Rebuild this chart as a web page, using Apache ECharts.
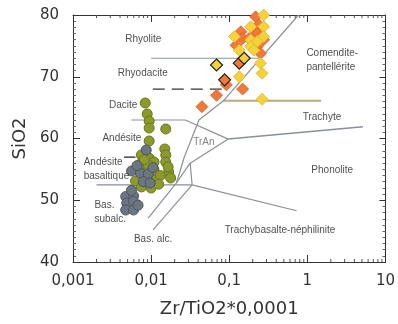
<!DOCTYPE html>
<html><head><meta charset="utf-8">
<script src="https://cdn.jsdelivr.net/npm/echarts@6/dist/echarts.min.js"></script>
<style>html,body{margin:0;padding:0;background:#fff}#c{width:398px;height:324px}</style>
</head><body><div id="c"></div>
<script>
// ---- axis ticks ----
const xTickValues = [0.001, 0.01, 0.1, 1, 10];
const xTickLabels = ['0,001', '0,01', '0,1', '1', '10'];
const yTickValues = [40, 50, 60, 70, 80];
const minorLogTicks = [0.002,0.003,0.004,0.005,0.006,0.007,0.008,0.009,
  0.02,0.03,0.04,0.05,0.06,0.07,0.08,0.09,
  0.2,0.3,0.4,0.5,0.6,0.7,0.8,0.9,
  2,3,4,5,6,7,8,9];

// ---- samples: [Zr/TiO2*0.0001, SiO2] ----
const greenCircles = [
  [0.00841,65.75],[0.00891,63.97],[0.00944,62.83],[0.00944,61.70],[0.0154,61.54],
  [0.00944,59.60],[0.01496,58.30],[0.0154,57.33],[0.0075,57.33],[0.00944,56.84],
  [0.0075,56.03],[0.0109,56.19],[0.0154,56.19],[0.00917,54.90],[0.0109,54.90],
  [0.0168,54.57],[0.0178,53.60],[0.00631,53.12],[0.0112,53.28],[0.0075,52.15],
  [0.0100,51.98],[0.00917,55.71],[0.0082,56.6],[0.0131,54.0],[0.0165,55.4],
  [0.0085,53.6],[0.0125,52.6]
];
const grayCircles = [
  [0.00866,58.14],[0.00562,54.74],[0.00729,54.41],[0.00917,54.25],[0.00794,53.0],
  [0.00972,52.79],[0.00473,50.6],[0.00596,50.7],[0.00487,49.55],[0.00596,49.8],
  [0.00473,48.42],[0.00596,48.42],[0.0106,55.3],[0.0066,55.6],[0.0056,51.6],
  [0.0068,49.2]
];
const orangeDiamonds = [
  [0.2175,79.7],[0.2393,78.4],[0.1413,77.3],[0.2175,77.3],[0.2284,77.0],[0.1484,76.2],
  [0.1794,76.2],[0.2761,76.0],[0.1224,75.1],[0.2284,74.9],[0.2512,73.8],
  [0.0917,68.7],[0.1484,68.0],[0.0688,67.0],[0.0447,65.15]
];
const orangeOutlined = [[0.1346,72.2],[0.0873,69.5]];
const yellowDiamonds = [
  [0.2761,80.0],[0.1884,78.1],[0.2761,78.1],[0.2761,76.5],[0.1165,76.5],[0.1884,75.95],
  [0.2284,75.7],[0.1884,74.9],[0.1346,74.3],[0.2072,74.3],[0.2512,72.2],[0.1346,70.0],
  [0.2637,70.55],[0.2637,66.35]
];
const yellowOutlined = [[0.1553,73.0],[0.0688,71.9]];

// ---- field boundaries ----
const bRhyolite = [[0.01,73.0],[0.235,73.0]];
const bRhyodacite = [[0.0105,68.0],[0.085,68.0]];
const bComendite = [[0.084,66.1],[1.5,66.1]];
const bDaciteAndesite = [[0.0056,63.0],[0.0274,63.0],[0.0972,59.9]];
const bTrachPhon = [[0.0972,59.9],[5.16,61.9]];
const bMain = [[0.772,80],[0.0841,66.1],[0.041,63.0],[0.0266,57.0],[0.0211,52.8],[0.00917,47.1]];
const bTrAnLow = [[0.0972,59.9],[0.0316,56.0],[0.0211,52.8]];
const bTrAnLink = [[0.0316,56.0],[0.0335,52.5]];
const bBasalt = [[0.002,52.5],[0.0335,52.5],[0.729,48.3]];
const bAlkBas = [[0.0335,52.5],[0.0106,45.2]];
const bLeader = [[0.0045,57.0],[0.0063,57.0]];

// ---- field names ----
const fieldNames = ['Rhyolite','Rhyodacite','Dacite','Andésite','Andésite\nbasaltique','Bas.\nsubalc.',
  'Bas. alc.','Trachybasalte-néphilinite','Phonolite','Trachyte','Comendite-\npantellérite','TrAn'];
const fieldAnchors = [[0.00794,76.1],[0.00783,70.6],[0.00668,65.4],[0.0075,60.1],[0.00137,55.0],[0.00188,48.1],
  [0.0106,43.7],[0.447,45.2],[2.08,54.9],[1.54,63.5],[0.972,72.6],[0.0473,59.4]];
const fieldAlign = ['center','center','right','right','left','left','center','center','center','center','left','center'];

const AXFONT = "'DejaVu Sans',sans-serif";
const chart = echarts.init(document.getElementById('c'), null, {renderer:'canvas'});

function lineSeries(data, color, width, type) {
  return {type:'line', data, xAxisIndex:0, yAxisIndex:0, symbol:'none', silent:true, z:2,
    lineStyle:{color, width, type: type || 'solid'}, animation:false};
}
function scat(data, symbol, size, fill, border, bw) {
  return {type:'scatter', data, symbol, symbolSize:size, z:5, animation:false,
    itemStyle:{color:fill, borderColor:border, borderWidth:bw, opacity:1}};
}
const axisCommon = {lineStyle:{color:'#333', width:1}};
const axText = {fontFamily:AXFONT, color:'#333'};

const option = {
  animation:false,
  grid:{left:73, right:6, top:15, bottom:62, containLabel:false},
  xAxis:[{
    type:'log', logBase:10, min:0.001, max:10, position:'bottom',
    axisLine:{show:true, ...axisCommon},
    axisTick:{show:true, inside:true, length:7, lineStyle:{color:'#333'}},
    splitLine:{show:false},
    axisLabel:{...axText, fontSize:15, margin:12,
      formatter:v => xTickLabels[Math.round(Math.log10(v)) + 3]},
    name:'Zr/TiO2*0,0001', nameLocation:'middle', nameGap:38,
    nameTextStyle:{...axText, fontSize:18}
  },{
    type:'log', logBase:10, min:0.001, max:10, position:'top',
    axisLine:{show:true, ...axisCommon},
    axisTick:{show:true, inside:true, length:7, lineStyle:{color:'#333'}},
    splitLine:{show:false}, axisLabel:{show:false}
  }],
  yAxis:[{
    type:'value', min:40, max:80, interval:10, position:'left',
    axisLine:{show:true, ...axisCommon},
    axisTick:{show:true, inside:true, length:7, lineStyle:{color:'#333'}},
    minorTick:{show:true, splitNumber:10, length:3, lineStyle:{color:'#666'}},
    splitLine:{show:false},
    axisLabel:{...axText, fontSize:15, margin:14},
    name:'SiO2', nameLocation:'middle', nameGap:33, nameRotate:90,
    nameTextStyle:{...axText, fontSize:18}
  },{
    type:'value', min:40, max:80, interval:10, position:'right',
    axisLine:{show:true, ...axisCommon},
    axisTick:{show:true, inside:true, length:6, lineStyle:{color:'#333'}},
    minorTick:{show:true, splitNumber:10, length:3, lineStyle:{color:'#666'}},
    splitLine:{show:false}, axisLabel:{show:false}
  }],
  series:[
    {type:'custom', silent:true, z:3, animation:false,
      data: minorLogTicks.map(v => [v, 40]),
      renderItem:(params, api) => {
        const v = api.value(0);
        const b = api.coord([v, 40]);
        const t = api.coord([v, 80]);
        const st = {stroke:'#555', lineWidth:1};
        return {type:'group', children:[
          {type:'line', shape:{x1:b[0], y1:b[1], x2:b[0], y2:b[1]-3}, style:st},
          {type:'line', shape:{x1:t[0], y1:t[1], x2:t[0], y2:t[1]+3}, style:st}
        ]};
      }},
    lineSeries(bRhyolite, '#8c94a4', 1.2),
    lineSeries(bRhyodacite, '#333', 1.2, [12,7]),
    lineSeries(bComendite, '#c2a67c', 2),
    lineSeries(bDaciteAndesite, '#8a8f99', 1.2),
    lineSeries(bTrachPhon, '#8a8f99', 1.5),
    lineSeries(bMain, '#8a8f99', 1.2),
    lineSeries(bTrAnLow, '#8a8f99', 1.2),
    lineSeries(bTrAnLink, '#8a8f99', 1.2),
    lineSeries(bBasalt, '#8a8f99', 1.2),
    lineSeries(bAlkBas, '#8a8f99', 1.2),
    lineSeries(bLeader, '#222', 1.2),
    scat(greenCircles, 'circle', 10, '#8c9a2c', '#6b7520', 1),
    scat(grayCircles, 'circle', 10, '#6c7682', '#4e555d', 1),
    scat(orangeDiamonds, 'diamond', 12, '#f07838', '#d8602c', 0.8),
    scat(yellowDiamonds, 'diamond', 12, '#f4d23c', '#dcb62c', 0.8),
    scat(orangeOutlined, 'diamond', 12, '#f07838', '#222', 1.2),
    scat(yellowOutlined, 'diamond', 12, '#f4d23c', '#222', 1.2),
    {type:'scatter', symbolSize:0, silent:true, z:6, animation:false,
      data: fieldNames.map((n, i) => ({value: fieldAnchors[i],
        label:{show:true, position:'inside', formatter:n, align:fieldAlign[i],
          verticalAlign:'middle', lineHeight:14,
          color: n === 'TrAn' ? '#666' : '#222'}})),
      label:{fontFamily:"'Liberation Sans',Arial,sans-serif", fontSize:10}}
  ]
};
chart.setOption(option);
</script></body></html>
